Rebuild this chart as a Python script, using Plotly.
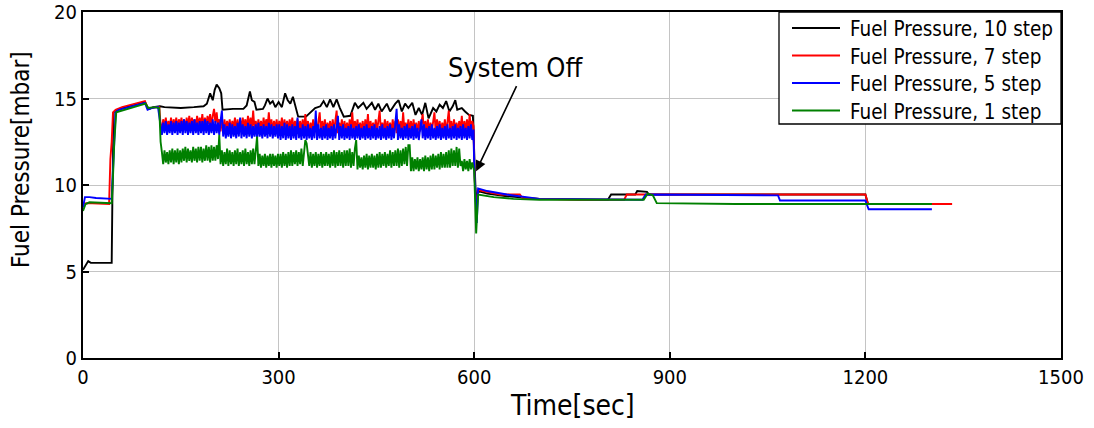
import plotly.graph_objects as go

# ---------------- data ----------------
series_names = ["Fuel Pressure, 10 step", "Fuel Pressure, 7 step",
                "Fuel Pressure, 5 step", "Fuel Pressure, 1 step"]
series_colors = ["#000000", "#ff0000", "#0000ff", "#008000"]

# 10 step (black): full trace, hand-read
black_t = [0, 3, 8, 12, 44, 45, 47, 50, 60, 70, 80, 90, 95, 99, 102, 108, 118,
           125, 150, 170, 185, 190, 195, 199, 202, 205, 209, 212, 214, 230, 246,
           251, 256, 259, 263, 266, 276, 279, 283, 287, 291, 295, 300, 305, 308,
           310, 314, 318, 322, 330, 342, 348, 356, 364, 369, 374, 379, 384, 389,
           394, 400, 410, 417, 422, 430, 435, 443, 448, 453, 458, 466, 471, 479,
           484, 489, 494, 499, 505, 510, 515, 520, 525, 530, 537, 542, 547, 552,
           557, 562, 567, 571, 574, 581, 586, 592, 598, 600, 602, 604, 606, 620,
           650, 700, 805, 810, 847, 850, 865, 868, 1200, 1204, 1300]
black_v = [5.1, 5.3, 5.6, 5.5, 5.5, 9.0, 14.2, 14.3, 14.45, 14.55, 14.65, 14.75, 14.8, 14.5, 14.4, 14.5, 14.55,
           14.5, 14.45, 14.5, 14.55, 14.7, 15.3, 14.9, 15.5, 15.8, 15.6, 15.3, 14.35, 14.4, 14.4,
           14.6, 15.4, 14.9, 14.8, 14.35, 14.4, 14.6, 15.0, 14.7, 14.85, 14.5, 14.8, 14.5, 14.9,
           15.3, 14.9, 14.7, 15.1, 13.95, 13.95, 14.15, 14.45, 14.55, 14.85, 14.5, 14.95, 14.5, 14.95,
           14.45, 13.95, 14.0, 14.75, 14.45, 14.75, 14.4, 14.75, 14.35, 14.7, 14.25, 14.7, 14.25, 14.7,
           14.9, 14.25, 14.7, 14.45, 14.75, 14.05, 14.45, 14.05, 14.75, 13.85, 14.45, 14.25, 14.65, 14.45,
           14.85, 14.25, 14.55, 14.9, 14.35, 14.45, 14.25, 14.05, 14.0, 12.0, 9.8, 9.0, 9.65, 9.5,
           9.35, 9.2, 9.15, 9.45, 9.45, 9.65, 9.6, 9.45, 9.45, 8.9, 8.9]

# sampling times of the noisy burner-on section (every 2 s, 121 ... 599)
noisy_t = list(range(121, 600, 2))

# 7 step (red)
red_pre_t = [0, 5, 40, 42, 44, 46, 50, 60, 70, 80, 90, 95, 99, 105, 112, 117, 119]
red_pre_v = [8.9, 8.95, 8.9, 11.5, 12.5, 14.2, 14.35, 14.5, 14.6, 14.7, 14.8, 14.85, 14.45, 14.45, 14.5, 14.5, 13.5]
red_noisy_v = [
    13.2, 13.8, 13.3, 13.9, 13.2, 13.7, 13.3, 13.9, 13.2, 13.8,
    13.3, 13.9, 13.2, 13.8, 13.4, 13.9, 13.3, 13.8, 13.2, 13.9,
    13.3, 14.0, 13.3, 13.9, 13.4, 13.8, 13.3, 14.0, 13.4, 13.9,
    13.4, 14.1, 13.3, 13.9, 13.4, 14.0, 13.5, 14.1, 13.4, 14.0,
    14.4, 13.6, 14.2, 13.4, 13.8, 13.1, 13.7, 13.2, 13.8, 13.1,
    13.7, 13.2, 13.8, 13.1, 13.7, 13.2, 13.9, 13.1, 13.8, 13.2,
    13.8, 13.2, 13.9, 13.3, 13.8, 13.2, 14.0, 13.3, 13.9, 13.2,
    14.3, 13.2, 13.7, 13.1, 13.8, 13.2, 13.7, 13.1, 13.9, 13.2,
    13.8, 13.3, 14.2, 13.2, 13.8, 13.1, 13.7, 13.2, 13.8, 13.1,
    13.7, 13.2, 13.9, 13.1, 13.8, 13.2, 13.7, 13.1, 13.8, 13.2,
    13.9, 13.1, 13.7, 13.2, 13.8, 13.0, 13.7, 13.1, 13.8, 13.0,
    14.1, 13.1, 13.7, 13.0, 13.6, 13.1, 13.8, 13.0, 13.7, 13.1,
    13.6, 14.2, 13.0, 13.7, 13.1, 13.8, 13.0, 13.6, 13.1, 13.7,
    13.0, 13.8, 13.1, 13.7, 14.3, 13.0, 13.6, 13.1, 13.8, 13.0,
    13.7, 13.1, 13.6, 13.0, 13.8, 13.1, 14.2, 13.0, 13.7, 13.1,
    13.8, 13.0, 13.6, 13.1, 13.7, 13.0, 13.8, 13.1, 14.1, 13.0,
    13.7, 13.1, 13.6, 13.0, 13.8, 13.1, 13.7, 14.3, 13.0, 13.6,
    13.1, 13.8, 13.0, 13.7, 13.1, 13.6, 13.0, 13.8, 13.1, 13.7,
    13.0, 13.8, 13.1, 13.7, 13.0, 14.2, 13.1, 13.6, 13.0, 13.8,
    13.1, 13.7, 13.0, 13.8, 13.1, 13.6, 13.0, 13.7, 13.1, 13.8,
    14.1, 13.0, 13.7, 13.1, 13.8, 13.0, 13.6, 13.1, 13.7, 14.2,
    13.0, 13.8, 13.1, 13.7, 13.0, 13.6, 13.1, 13.8, 13.0, 13.7,
    14.3, 13.1, 13.7, 13.0, 13.8, 13.1, 13.6, 13.0, 13.7, 13.1,
    14.0, 13.0, 13.7, 13.1, 13.8, 13.0, 14.1, 13.1, 13.7, 13.4]
red_post_t = [600, 602, 604, 606, 620, 640, 655, 670, 674, 700, 760, 830, 834, 1200, 1204, 1333]
red_post_v = [11.0, 9.4, 8.6, 9.7, 9.6, 9.45, 9.45, 9.45, 9.25, 9.2, 9.15, 9.15, 9.45, 9.45, 8.9, 8.9]

# 5 step (blue)
blue_pre_t = [0, 3, 10, 20, 44, 46, 48, 50, 55, 65, 75, 85, 95, 99, 105, 115, 119]
blue_pre_v = [8.7, 9.3, 9.3, 9.25, 9.2, 11.0, 12.5, 14.2, 14.35, 14.45, 14.55, 14.65, 14.75, 14.35, 14.45, 14.5, 13.6]
blue_noisy_v = [
    12.9, 13.6, 13.0, 13.7, 12.9, 13.5, 13.0, 13.7, 12.9, 13.6,
    13.0, 13.7, 12.9, 13.6, 13.0, 13.7, 12.9, 13.8, 13.0, 13.7,
    12.9, 13.6, 13.0, 13.7, 12.9, 13.8, 13.0, 13.6, 12.9, 13.7,
    13.0, 13.7, 12.9, 13.8, 13.0, 13.7, 12.9, 13.6, 13.0, 13.8,
    12.9, 13.7, 13.0, 13.6, 12.9, 13.7, 14.3, 12.8, 13.5, 12.7,
    13.4, 12.8, 13.6, 12.7, 13.5, 12.8, 13.4, 12.7, 13.6, 12.8,
    13.9, 12.7, 13.5, 12.8, 13.4, 12.7, 13.6, 12.8, 13.5, 12.7,
    13.4, 12.8, 13.5, 12.7, 13.6, 12.8, 13.4, 12.7, 13.5, 12.8,
    13.4, 12.7, 13.6, 12.8, 13.5, 12.7, 13.4, 12.8, 13.5, 12.7,
    13.5, 12.6, 13.4, 12.7, 13.6, 12.6, 13.5, 12.7, 13.4, 12.6,
    13.5, 12.7, 13.4, 12.6, 13.9, 12.7, 13.3, 12.6, 13.5, 12.7,
    13.4, 12.6, 13.5, 12.7, 13.3, 12.6, 13.4, 12.7, 14.3, 12.6,
    13.5, 12.7, 13.3, 12.6, 13.4, 12.7, 13.5, 12.6, 13.3, 12.7,
    13.4, 12.6, 13.5, 12.7, 13.3, 14.0, 12.6, 13.4, 12.7, 13.5,
    12.6, 13.3, 12.7, 13.4, 12.6, 13.5, 12.7, 13.3, 12.6, 13.4,
    12.7, 13.5, 12.6, 13.3, 12.7, 13.4, 12.6, 13.5, 12.7, 13.3,
    12.6, 13.4, 12.7, 13.5, 12.6, 13.3, 12.7, 13.4, 12.6, 13.5,
    12.7, 13.3, 12.6, 13.4, 12.7, 13.5, 12.6, 13.3, 12.7, 13.4,
    14.4, 12.6, 13.5, 12.7, 13.3, 12.6, 13.4, 12.7, 13.5, 12.6,
    13.3, 12.7, 13.4, 12.6, 13.5, 12.7, 13.3, 12.6, 13.4, 13.8,
    12.7, 13.5, 12.6, 13.3, 12.7, 13.4, 12.6, 13.5, 12.7, 13.3,
    12.6, 13.4, 12.7, 13.5, 12.6, 13.3, 12.7, 13.4, 12.6, 13.5,
    12.7, 13.3, 12.6, 13.4, 12.7, 13.5, 12.6, 13.3, 12.7, 13.4,
    12.6, 13.5, 12.7, 13.3, 12.6, 13.4, 12.7, 13.5, 12.6, 13.2]
blue_post_t = [600, 602, 604, 606, 620, 650, 680, 700, 858, 863, 1066, 1069, 1200, 1205, 1302]
blue_post_v = [11.0, 9.0, 7.8, 9.8, 9.65, 9.45, 9.3, 9.2, 9.15, 9.45, 9.4, 9.1, 9.1, 8.6, 8.6]

# 1 step (green)
green_pre_t = [0, 4, 10, 44, 46, 48, 51, 60, 70, 80, 92, 96, 100, 110, 117, 119]
green_pre_v = [8.5, 8.9, 9.0, 8.95, 10.5, 12.5, 14.2, 14.3, 14.4, 14.5, 14.65, 14.7, 14.45, 14.5, 14.45, 12.5]
green_noisy_v = [
    11.9, 11.2, 12.0, 11.3, 11.9, 11.2, 12.0, 11.3, 12.1, 11.2,
    12.0, 11.3, 12.1, 11.2, 12.0, 11.3, 12.1, 11.4, 12.2, 11.3,
    12.1, 11.4, 12.0, 11.3, 12.2, 11.4, 12.1, 11.3, 12.2, 11.4,
    12.2, 11.3, 12.1, 11.4, 12.3, 11.4, 12.2, 11.3, 12.3, 11.4,
    12.2, 11.4, 12.3, 11.5, 12.9, 11.2, 12.0, 11.1, 11.9, 11.2,
    12.1, 11.1, 12.0, 11.2, 11.9, 11.1, 12.0, 11.2, 12.1, 11.1,
    11.9, 11.2, 12.0, 11.1, 12.1, 11.2, 11.9, 11.1, 12.0, 11.2,
    12.1, 11.2, 12.0, 12.8, 11.1, 11.8, 11.0, 11.7, 11.1, 11.8,
    11.0, 11.7, 11.1, 11.8, 11.0, 11.8, 11.1, 11.7, 11.0, 11.8,
    11.1, 11.8, 11.0, 11.9, 11.1, 11.8, 11.0, 11.9, 11.1, 12.0,
    11.1, 11.9, 11.2, 12.0, 11.1, 11.9, 11.2, 12.1, 11.1, 12.0,
    12.6, 12.4, 11.8, 11.1, 11.9, 11.0, 11.8, 11.1, 11.9, 11.0,
    11.8, 11.1, 11.9, 11.0, 11.8, 11.1, 11.9, 11.1, 11.8, 11.0,
    11.9, 11.1, 12.0, 11.0, 11.9, 11.1, 12.0, 11.1, 11.9, 11.0,
    12.0, 11.1, 12.0, 11.1, 12.1, 11.0, 11.9, 11.1, 12.1, 12.6,
    10.9, 11.7, 11.0, 11.6, 10.9, 11.7, 11.0, 11.8, 10.9, 11.7,
    11.0, 11.8, 11.0, 11.7, 10.9, 11.8, 11.0, 11.9, 11.0, 11.8,
    11.1, 11.9, 11.0, 11.8, 11.1, 12.0, 11.0, 11.9, 11.1, 12.0,
    11.1, 12.1, 11.0, 12.0, 11.1, 12.1, 11.2, 12.2, 11.1, 12.3,
    12.3, 10.8, 11.6, 10.8, 11.5, 10.9, 11.6, 10.8, 11.5, 10.9,
    11.6, 10.8, 11.7, 10.9, 11.6, 10.8, 11.7, 10.9, 11.8, 10.9,
    11.7, 11.0, 11.8, 10.9, 11.9, 11.0, 11.8, 11.0, 11.9, 11.0,
    12.0, 11.0, 12.1, 11.1, 12.0, 11.1, 12.2, 11.0, 12.1, 11.1,
    11.4, 10.8, 11.5, 10.9, 11.4, 10.8, 11.5, 10.9, 11.3, 10.9]
green_post_t = [600, 603, 606, 630, 660, 700, 860, 866, 874, 880, 1000, 1302]
green_post_v = [10.8, 7.2, 9.45, 9.3, 9.2, 9.15, 9.15, 9.5, 9.4, 8.95, 8.9, 8.9]

x_ticks = [0, 300, 600, 900, 1200, 1500]
y_ticks = [0, 5, 10, 15, 20]

annot_text = "System Off"
annot_tip = (603, 10.8)
annot_tail = (666, 15.8)
annot_label_pos = (664, 16.8)

# ---------------- figure ----------------
FONT = "Tahoma, 'DejaVu Sans Condensed', 'Liberation Sans', Arial, sans-serif"

W, H = 1094, 428
ML, MR, MT, MB = 83, 33, 12, 70
PW, PH = W - ML - MR, H - MT - MB


def px_to_paper_x(px):
    return (px - ML) / PW


def px_to_paper_y(py):
    return (H - MB - py) / PH


all_t = [black_t,
         red_pre_t + noisy_t + red_post_t,
         blue_pre_t + noisy_t + blue_post_t,
         green_pre_t + noisy_t + green_post_t]
all_v = [black_v,
         red_pre_v + red_noisy_v + red_post_v,
         blue_pre_v + blue_noisy_v + blue_post_v,
         green_pre_v + green_noisy_v + green_post_v]

fig = go.Figure()
for name, col, t, v in zip(series_names, series_colors, all_t, all_v):
    fig.add_trace(go.Scatter(x=t, y=v, mode="lines", name=name, showlegend=False,
                             line=dict(color=col, width=1.9)))

fig.add_annotation(x=annot_tip[0], y=annot_tip[1], ax=annot_tail[0], ay=annot_tail[1],
                   xref="x", yref="y", axref="x", ayref="y", text="",
                   showarrow=True, arrowhead=2, arrowsize=1.3, arrowwidth=1.6,
                   arrowcolor="black")
fig.add_annotation(x=annot_label_pos[0], y=annot_label_pos[1], xref="x", yref="y",
                   text=annot_text, showarrow=False,
                   font=dict(family=FONT, size=27, color="black"))

# axis titles
fig.add_annotation(x=0.5, y=px_to_paper_y(405), xref="paper", yref="paper", text="Time[sec]",
                   showarrow=False, xanchor="center", yanchor="middle",
                   font=dict(family=FONT, size=28, color="black"))
fig.add_annotation(x=px_to_paper_x(21), y=px_to_paper_y(160), xref="paper", yref="paper",
                   text="Fuel Pressure[mbar]", textangle=-90, showarrow=False,
                   xanchor="center", yanchor="middle",
                   font=dict(family=FONT, size=24, color="black"))

# legend box drawn by hand (long line samples as in the reference)
leg_left, leg_right, leg_top, leg_bottom = 779, W - MR, MT, 124
shapes = [dict(type="rect", xref="paper", yref="paper", layer="above",
               x0=px_to_paper_x(leg_left), x1=px_to_paper_x(leg_right),
               y0=px_to_paper_y(leg_bottom), y1=px_to_paper_y(leg_top),
               line=dict(color="black", width=1.3), fillcolor="white")]
leg_rows = [28, 55.5, 83, 110.5]
for name, col, row in zip(series_names, series_colors, leg_rows):
    shapes.append(dict(type="line", xref="paper", yref="paper", layer="above",
                       x0=px_to_paper_x(792), x1=px_to_paper_x(840),
                       y0=px_to_paper_y(row), y1=px_to_paper_y(row),
                       line=dict(color=col, width=2)))
    fig.add_annotation(x=px_to_paper_x(848), y=px_to_paper_y(row + 1), xref="paper", yref="paper",
                       text=name, showarrow=False, xanchor="left", yanchor="middle",
                       font=dict(family=FONT, size=20.5, color="black"))

axis_common = dict(showline=True, mirror=True, linecolor="black", linewidth=2,
                   ticks="inside", ticklen=6, tickwidth=2, tickcolor="black",
                   showgrid=True, gridcolor="#c4c4c4", gridwidth=1, zeroline=False,
                   automargin=False,
                   tickfont=dict(family=FONT, size=20, color="black"))

fig.update_xaxes(range=[0, 1500], tickvals=x_ticks, **axis_common)
fig.update_yaxes(range=[0, 20], tickvals=y_ticks, **axis_common)

fig.update_layout(
    width=W, height=H,
    margin=dict(l=ML, r=MR, t=MT, b=MB, autoexpand=False),
    paper_bgcolor="white", plot_bgcolor="white",
    showlegend=False,
    shapes=shapes,
)

fig.write_html("out.html")
